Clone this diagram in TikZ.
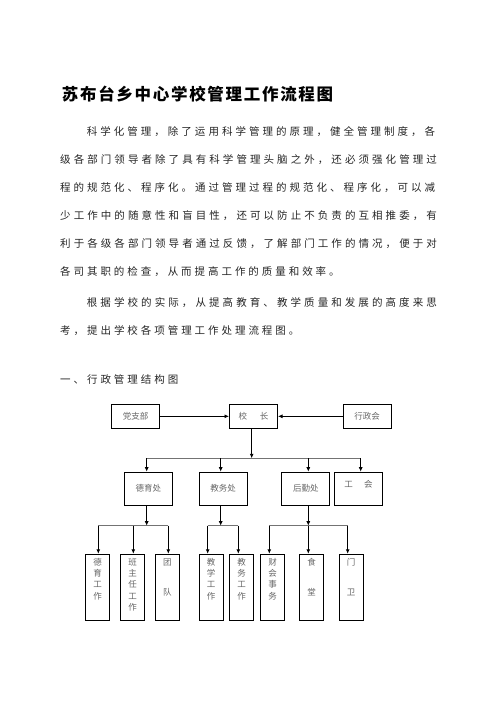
\documentclass[tikz,border=0pt]{standalone}
\usepackage{fontspec}
\setmainfont{Liberation Serif}
\newfontfamily\cjk{Noto Sans CJK SC}
\usetikzlibrary{arrows.meta}
\makeatletter
\newcommand\spreadtext[2]{\hbox to #1{\@tfor\cc:=#2\do{\cc\hfil}\unskip}}
\makeatother
\newcommand\vtext[1]{\parbox[c][58pt][t]{12pt}{\centering #1}}
\begin{document}
\begin{tikzpicture}[x=1pt,y=-1pt,
  bodyline/.style={anchor=west,inner sep=0pt,font=\cjk\fontsize{10.5}{12}\selectfont,text=black!85},
  boxA/.style={draw,line width=1pt,minimum width=48pt,minimum height=24pt,inner sep=0pt,font=\cjk\fontsize{8.5}{10}\selectfont,text=black!60},
  boxB/.style={boxA,minimum height=33pt},
  boxC/.style={draw,line width=1pt,minimum width=23.6pt,minimum height=66pt,inner sep=0pt,font=\cjk\fontsize{8.5}{11.2}\selectfont,text=black!60},
  arr/.style={-{Latex[length=4.5pt,width=4pt]},line width=1pt},
  bus/.style={line width=1.3pt,draw=black!55}]
\fill[white] (0,0) rectangle (496,702);
\useasboundingbox (0,0) rectangle (496,702);
% title and body text
\node[anchor=west,inner sep=0pt,font=\cjk\bfseries\fontsize{16.5}{18}\selectfont] (title) at (61.7,94) {\spreadtext{271.3pt}{苏布台乡中心学校管理工作流程图}};
\node[bodyline] (l1) at (86.7,131.7) {\spreadtext{348.3pt}{科学化管理，除了运用科学管理的原理，健全管理制度，各}};
\node[bodyline] (l2) at (60,159.7) {\spreadtext{376.7pt}{级各部门领导者除了具有科学管理头脑之外，还必须强化管理过}};
\node[bodyline] (l3) at (60,187.7) {\spreadtext{375pt}{程的规范化、程序化。通过管理过程的规范化、程序化，可以减}};
\node[bodyline] (l4) at (60,215.7) {\spreadtext{376.7pt}{少工作中的随意性和盲目性，还可以防止不负责的互相推委，有}};
\node[bodyline] (l5) at (60,243.7) {\spreadtext{376.7pt}{利于各级各部门领导者通过反馈，了解部门工作的情况，便于对}};
\node[bodyline] (l6) at (60,271.7) {\spreadtext{279.5pt}{各司其职的检查，从而提高工作的质量和效率。}};
\node[bodyline] (l7) at (86.7,303) {\spreadtext{350pt}{根据学校的实际，从提高教育、教学质量和发展的高度来思}};
\node[bodyline] (l8) at (60,331) {\spreadtext{239.2pt}{考，提出学校各项管理工作处理流程图。}};
\node[bodyline] (l9) at (60,379.3) {\spreadtext{118.1pt}{一、行政管理结构图}};
% level 1
\node[boxA] (dang) at (135.5,416.3) {党支部};
\node[boxA] (xz) at (253.5,416.3) {校\hspace{13pt}长};
\node[boxA] (xzh) at (367.2,416.3) {行政会};
% level 2
\node[boxB] (deyu) at (148.3,488.7) {德育处};
\node[boxB] (jiaowu) at (223,488.7) {教务处};
\node[boxB] (houqin) at (305.8,488.7) {后勤处};
\node[boxB] (gonghui) at (358.5,488.7) {\raisebox{9pt}{工\hspace{11.5pt}会}};
% level 3
\node[boxC] (c1) at (97.5,587.3) {\vtext{德\\育\\工\\作}};
\node[boxC] (c2) at (132.5,587.3) {\vtext{班\\主\\任\\工\\作}};
\node[boxC] (c3) at (167.3,587.3) {\vtext{团\\[19pt]队}};
\node[boxC] (c4) at (211.2,587.3) {\vtext{教\\学\\工\\作}};
\node[boxC] (c5) at (241.5,587.3) {\vtext{教\\务\\工\\作}};
\node[boxC] (c6) at (272.5,587.3) {\vtext{财\\会\\事\\务}};
\node[boxC] (c7) at (311.5,587.3) {\vtext{食\\[19pt]堂}};
\node[boxC] (c8) at (351.2,587.3) {\vtext{门\\[19pt]卫}};
% bus coordinates
\coordinate (j0) at (251.7,458.3);
\coordinate (b1) at (146.7,458.3);
\coordinate (b2) at (220.7,458.3);
\coordinate (b3) at (308.3,458.3);
\coordinate (b4) at (360.7,458.3);
\coordinate (k1) at (146.7,525.7);
\coordinate (k2) at (220.7,525.7);
\coordinate (k3) at (308.3,525.7);
\coordinate (d1) at (98.3,525.7);
\coordinate (d2) at (133.3,525.7);
\coordinate (d3) at (168.3,525.7);
\coordinate (d4) at (207.7,525.7);
\coordinate (d5) at (238.3,525.7);
\coordinate (d6) at (269.3,525.7);
\coordinate (d7) at (308.3,525.7);
\coordinate (d8) at (347.7,525.7);
% connectors
\draw[arr] (dang.east) -- (xz.west);
\draw[arr] (xzh.west) -- (xz.east);
\draw[bus] (b1) -- (b4);
\draw[arr] (xz.south -| j0) -- (j0);
\draw[arr] (b1) -- (b1 |- deyu.north);
\draw[arr] (b2) -- (b2 |- jiaowu.north);
\draw[arr] (b3) -- (b3 |- houqin.north);
\draw[arr] (b4) -- (b4 |- gonghui.north);
\draw[bus] (d1) -- (d3);
\draw[bus] (d4) -- (d5);
\draw[bus] (d6) -- (d8);
\draw[arr] (deyu.south -| k1) -- (k1);
\draw[arr] (jiaowu.south -| k2) -- (k2);
\draw[arr] (houqin.south -| k3) -- (k3);
\draw[arr] (d1) -- (d1 |- c1.north);
\draw[arr] (d2) -- (d2 |- c2.north);
\draw[arr] (d3) -- (d3 |- c3.north);
\draw[arr] (d4) -- (d4 |- c4.north);
\draw[arr] (d5) -- (d5 |- c5.north);
\draw[arr] (d6) -- (d6 |- c6.north);
\draw[arr] (d7) -- (d7 |- c7.north);
\draw[arr] (d8) -- (d8 |- c8.north);
\end{tikzpicture}
\end{document}
